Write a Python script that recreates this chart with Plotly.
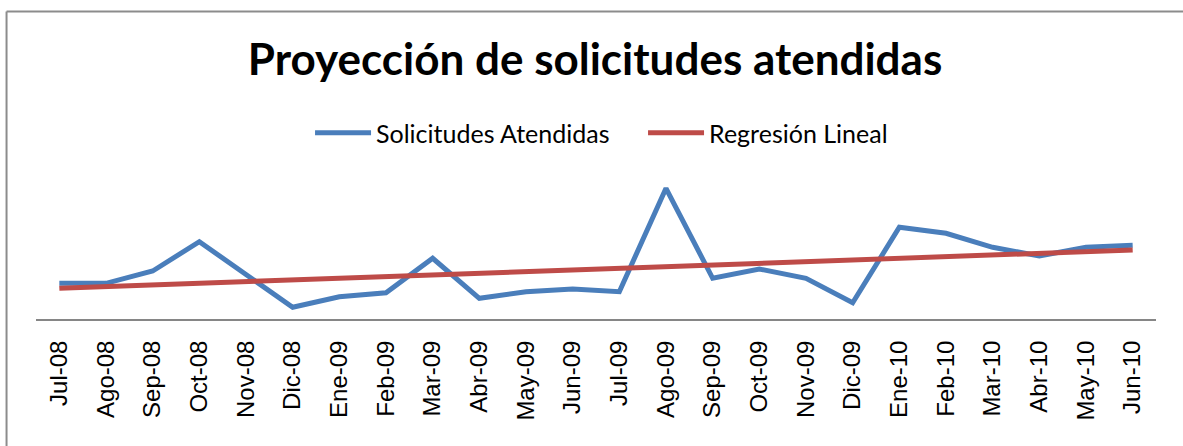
import plotly.graph_objects as go

meses = ["Jul-08", "Ago-08", "Sep-08", "Oct-08", "Nov-08", "Dic-08",
         "Ene-09", "Feb-09", "Mar-09", "Abr-09", "May-09", "Jun-09",
         "Jul-09", "Ago-09", "Sep-09", "Oct-09", "Nov-09", "Dic-09",
         "Ene-10", "Feb-10", "Mar-10", "Abr-10", "May-10", "Jun-10"]

solicitudes = [35.7, 35.7, 48.0, 77.3, 44.5, 11.7, 22.3, 26.3, 60.7, 20.7, 27.3, 30.0,
               27.3, 130.7, 40.7, 50.0, 40.7, 16.3, 91.7, 85.7, 71.7, 63.0, 71.7, 73.7]

regresion = [30.7, 32.4, 34.0, 35.7, 37.4, 39.0, 40.7, 42.4, 44.0, 45.7, 47.4, 49.0,
             50.7, 52.4, 54.0, 55.7, 57.4, 59.0, 60.7, 62.4, 64.0, 65.7, 67.4, 69.0]

fig = go.Figure()
fig.add_trace(go.Scatter(x=meses, y=solicitudes, mode="lines",
                         name="Solicitudes Atendidas",
                         line=dict(color="#4A7EBB", width=5)))
fig.add_trace(go.Scatter(x=meses, y=regresion, mode="lines",
                         name="Regresión Lineal",
                         line=dict(color="#BE4B48", width=5)))

fig.update_layout(
    width=1183, height=446,
    margin=dict(l=36, r=27, t=169, b=127),
    paper_bgcolor="white", plot_bgcolor="white",
    title=dict(text="<b>Proyección de solicitudes atendidas</b>",
               x=0.503, xanchor="center", y=0.867, yanchor="middle",
               font=dict(family="Lato", size=44, color="black")),
    legend=dict(orientation="h", x=0.542, xanchor="center", y=1.24, yanchor="middle",
                font=dict(family="Lato", size=25, color="black"),
                itemwidth=56, entrywidth=262, bgcolor="rgba(0,0,0,0)"),
    showlegend=True,
    xaxis=dict(showgrid=False, showline=True, linecolor="#868686", linewidth=2,
               range=[-0.5, 23.5],
               tickangle=-90, ticks="outside", ticklen=10, tickcolor="rgba(0,0,0,0)",
               tickfont=dict(family="Liberation Sans", size=24, color="black"),
               zeroline=False, fixedrange=True),
    yaxis=dict(range=[0, 150], visible=False, showgrid=False, zeroline=False),
    shapes=[
        dict(type="line", xref="paper", yref="paper",
             x0=-0.0263, x1=1.2, y0=2.05, y1=2.05,
             line=dict(color="#8C8C8C", width=2)),
        dict(type="line", xref="paper", yref="paper",
             x0=-0.0263, x1=-0.0263, y0=2.05, y1=-2,
             line=dict(color="#8C8C8C", width=2)),
    ],
)

fig.write_html("out.html", config={"displayModeBar": False},
               post_script="document.body.style.margin='0';")
